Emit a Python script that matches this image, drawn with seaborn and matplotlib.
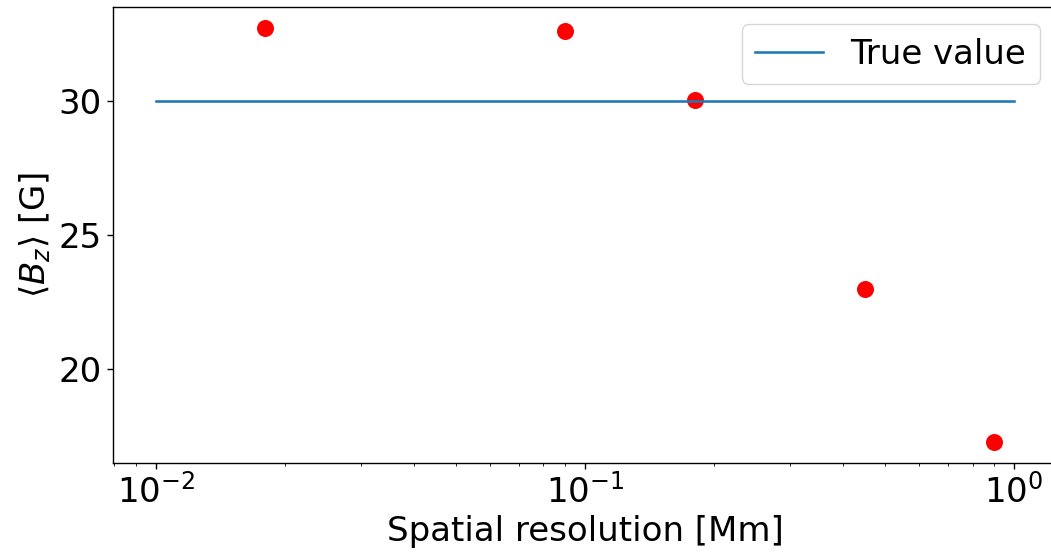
import matplotlib
matplotlib.use("Agg")
import matplotlib.pyplot as plt
import seaborn as sns
import pandas as pd

# Data
resolution_mm = [0.018, 0.09, 0.18, 0.45, 0.9]
bz_mean = [32.73, 32.62, 30.03, 22.97, 17.25]
true_x = [0.01, 1.0]
true_y = [30.0, 30.0]

plt.rcParams['font.family'] = ['DejaVu Sans']
FS = 24.5

fig = plt.figure(figsize=(10.51, 5.55), dpi=100)
ax = fig.add_axes([113/1051, 1 - 463/555, (1057-113)/1051, (463-7)/555])

line_df = pd.DataFrame({"x": true_x, "y": true_y})
pts_df = pd.DataFrame({"x": resolution_mm, "y": bz_mean})

sns.lineplot(data=line_df, x="x", y="y", ax=ax, color="#1f77b4", linewidth=1.85,
             label="True value")
sns.scatterplot(data=pts_df, x="x", y="y", ax=ax, color="red", s=150,
                linewidth=0, legend=False)

ax.set_xscale("log")
ax.margins(x=0.05, y=0.05)
ax.set_yticks([20, 25, 30])
ax.set_xlabel("Spatial resolution [Mm]", fontsize=FS)
ax.set_ylabel(r"$\langle B_z \rangle$ [G]", fontsize=FS)
ax.tick_params(axis="both", which="major", labelsize=FS, length=4.5, width=1)
ax.tick_params(axis="both", which="minor", length=2.5)
for s in ax.spines.values():
    s.set_linewidth(1.0)
ax.legend(loc="upper right", fontsize=FS)

fig.savefig("out.png", dpi=100)
